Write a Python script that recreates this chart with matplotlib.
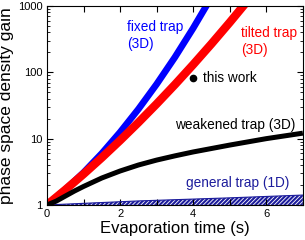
import matplotlib
matplotlib.use("Agg")
import matplotlib.pyplot as plt
from matplotlib.ticker import MultipleLocator, LogLocator, FixedFormatter, FixedLocator, NullFormatter

plt.rcParams['font.family'] = ['Liberation Sans', 'DejaVu Sans']
plt.rcParams['hatch.linewidth'] = 0.6

# fixed trap (3D)
t_fixed = [0, 0.5, 1, 1.5, 2, 2.5, 3, 3.5, 4, 4.5]
g_fixed = [1, 1.70, 3.08, 5.99, 12.5, 27.8, 66.3, 169, 464, 1360]

# tilted trap (3D)
t_tilted = [0, 0.5, 1, 1.5, 2, 2.5, 3, 3.5, 4, 4.5, 5, 5.5]
g_tilted = [1, 1.69, 2.92, 5.17, 9.40, 17.5, 33.4, 65.3, 131, 269, 566, 1220]

# weakened trap (3D)
t_weak = [0, 0.25, 0.5, 0.75, 1, 1.5, 2, 2.5, 3, 3.5, 4, 5, 6, 7]
g_weak = [1, 1.14, 1.36, 1.62, 1.9, 2.55, 3.25, 4.0, 4.75, 5.5, 6.3, 8.0, 10.0, 12.1]

# general trap (1D)
t_gen = [0, 2.5, 5, 7]
g_gen = [1, 1.15, 1.28, 1.41]

# this work
t_this = [3.99]
g_this = [82]

navy = '#1c1c9c'

fig = plt.figure(figsize=(3.05, 2.40), dpi=100)
ax = fig.add_axes([0.154, 0.146, 0.839, 0.829])

ax.fill_between(t_gen, 1, g_gen, facecolor=navy, edgecolor='none')
ax.fill_between(t_gen, 1, g_gen, facecolor='none', edgecolor='white',
                hatch='////////', linewidth=0)
ax.plot(t_gen, g_gen, color=navy, lw=0.8)
ax.plot(t_fixed, g_fixed, color='#0000ff', lw=4.8, solid_capstyle='butt')
ax.plot(t_tilted, g_tilted, color='#ff0000', lw=6.0, solid_capstyle='butt')
ax.plot(t_weak, g_weak, color='black', lw=3.6, solid_capstyle='butt')
ax.plot(t_this, g_this, 'o', color='black', ms=4.5)

ax.set_yscale('log')
ax.set_xlim(0, 7)
ax.set_ylim(1, 1000)

ax.xaxis.set_major_locator(MultipleLocator(2))
ax.xaxis.set_minor_locator(MultipleLocator(1))
ax.yaxis.set_major_locator(FixedLocator([1, 10, 100, 1000]))
ax.yaxis.set_major_formatter(FixedFormatter(['1', '10', '100', '1000']))
ax.yaxis.set_minor_locator(LogLocator(base=10, subs=range(2, 10)))
ax.yaxis.set_minor_formatter(NullFormatter())
ax.tick_params(which='both', direction='in', top=True, right=True,
               labelsize=8, pad=3)
ax.tick_params(which='major', length=4, width=0.8)
ax.tick_params(which='minor', length=2.5, width=0.6)
ax.tick_params(axis='x', which='minor', length=4, width=0.8)

ax.set_xlabel('Evaporation time (s)', fontsize=12, labelpad=1)
ax.set_ylabel('phase space density gain', fontsize=12.5, labelpad=3)

ax.text(2.2, 360, 'fixed trap\n(3D)', color='#0000ff', fontsize=9.8,
        va='center', ha='left', linespacing=1.3)
ax.text(5.3, 290, 'tilted trap\n(3D)', color='#ff0000', fontsize=9.8,
        va='center', ha='left', linespacing=1.3)
ax.text(4.28, 82, 'this work', color='black', fontsize=9.8, va='center')
ax.text(3.5, 16.0, 'weakened trap (3D)', color='black', fontsize=9.8,
        va='center')
ax.text(3.8, 2.14, 'general trap (1D)', color=navy, fontsize=9.8,
        va='center')

fig.savefig('out.png', dpi=100)
